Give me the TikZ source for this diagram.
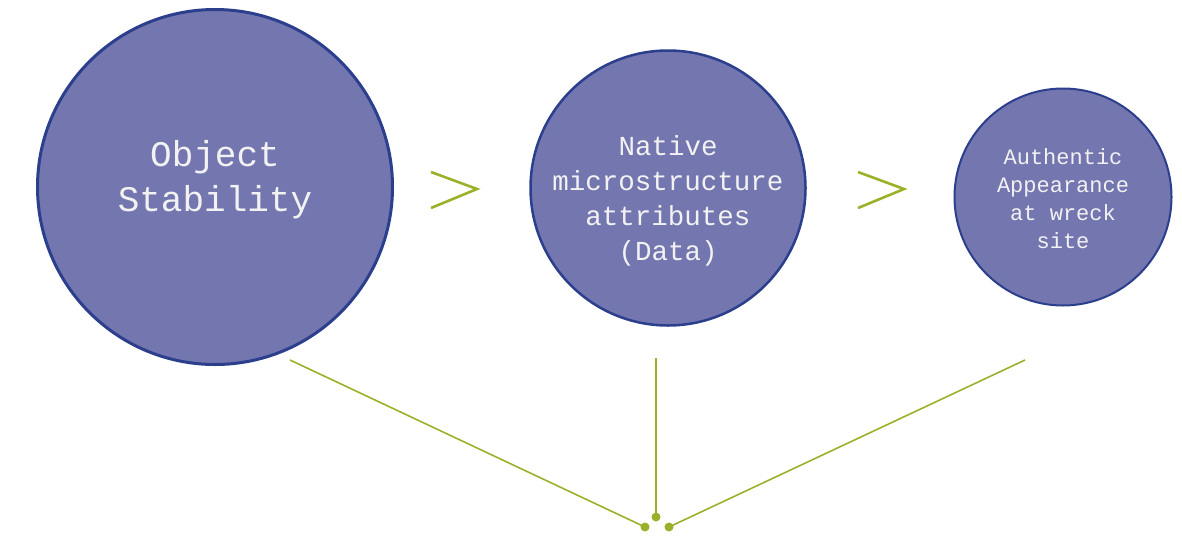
\documentclass[tikz,border=0pt]{standalone}
\usepackage{fontspec}
\setmonofont{Liberation Mono}
\definecolor{circfill}{HTML}{7476B0}
\definecolor{circline}{HTML}{2B3F8C}
\definecolor{olive}{HTML}{9BB12A}
\definecolor{txt}{HTML}{F2F2F2}
\begin{document}
\begin{tikzpicture}[x=1pt,y=-1pt,
  bubble/.style={circle,fill=circfill,draw=circline,inner sep=0pt},
  bubbletext/.style={text=txt,align=center,inner sep=0pt},
  conn/.style={draw=olive,line width=1.6pt},
  chev/.style={draw=olive,line width=2.6pt,line join=miter},
  dotnode/.style={circle,fill=olive,inner sep=0pt,minimum size=9pt}]
\useasboundingbox (0,0) rectangle (1182,536);
\node[bubble,line width=3pt,minimum size=355pt] (c1) at (215,187) {};
\node[bubble,line width=2.5pt,minimum size=275pt] (c2) at (668,188) {};
\node[bubble,line width=2pt,minimum size=217pt] (c3) at (1063,197) {};
\node[bubbletext,font=\ttfamily\fontsize{36}{45}\selectfont] (t1) at (215,180) {Object\\Stability};
\node[bubbletext,font=\ttfamily\fontsize{27.5}{35}\selectfont] (t2) at (668,201) {Native\\microstructure\\attributes\\(Data)};
\node[bubbletext,font=\ttfamily\fontsize{22}{28}\selectfont] (t3) at (1063,199) {Authentic\\Appearance\\at wreck\\site};
% chevrons
\draw[chev] (431,172) -- (477,189) -- (431,208);
\draw[chev] (858,172) -- (904,189) -- (858,208);
% converging connectors
\coordinate (s1) at (290,360);
\coordinate (s2) at (656,358);
\coordinate (s3) at (1025,360);
\node[dotnode] (d1) at (645,527) {};
\node[dotnode] (d2) at (656,517) {};
\node[dotnode] (d3) at (669,527) {};
\draw[conn] (s1) -- (d1.center);
\draw[conn] (s2) -- (d2.center);
\draw[conn] (s3) -- (d3.center);
\end{tikzpicture}
\end{document}
